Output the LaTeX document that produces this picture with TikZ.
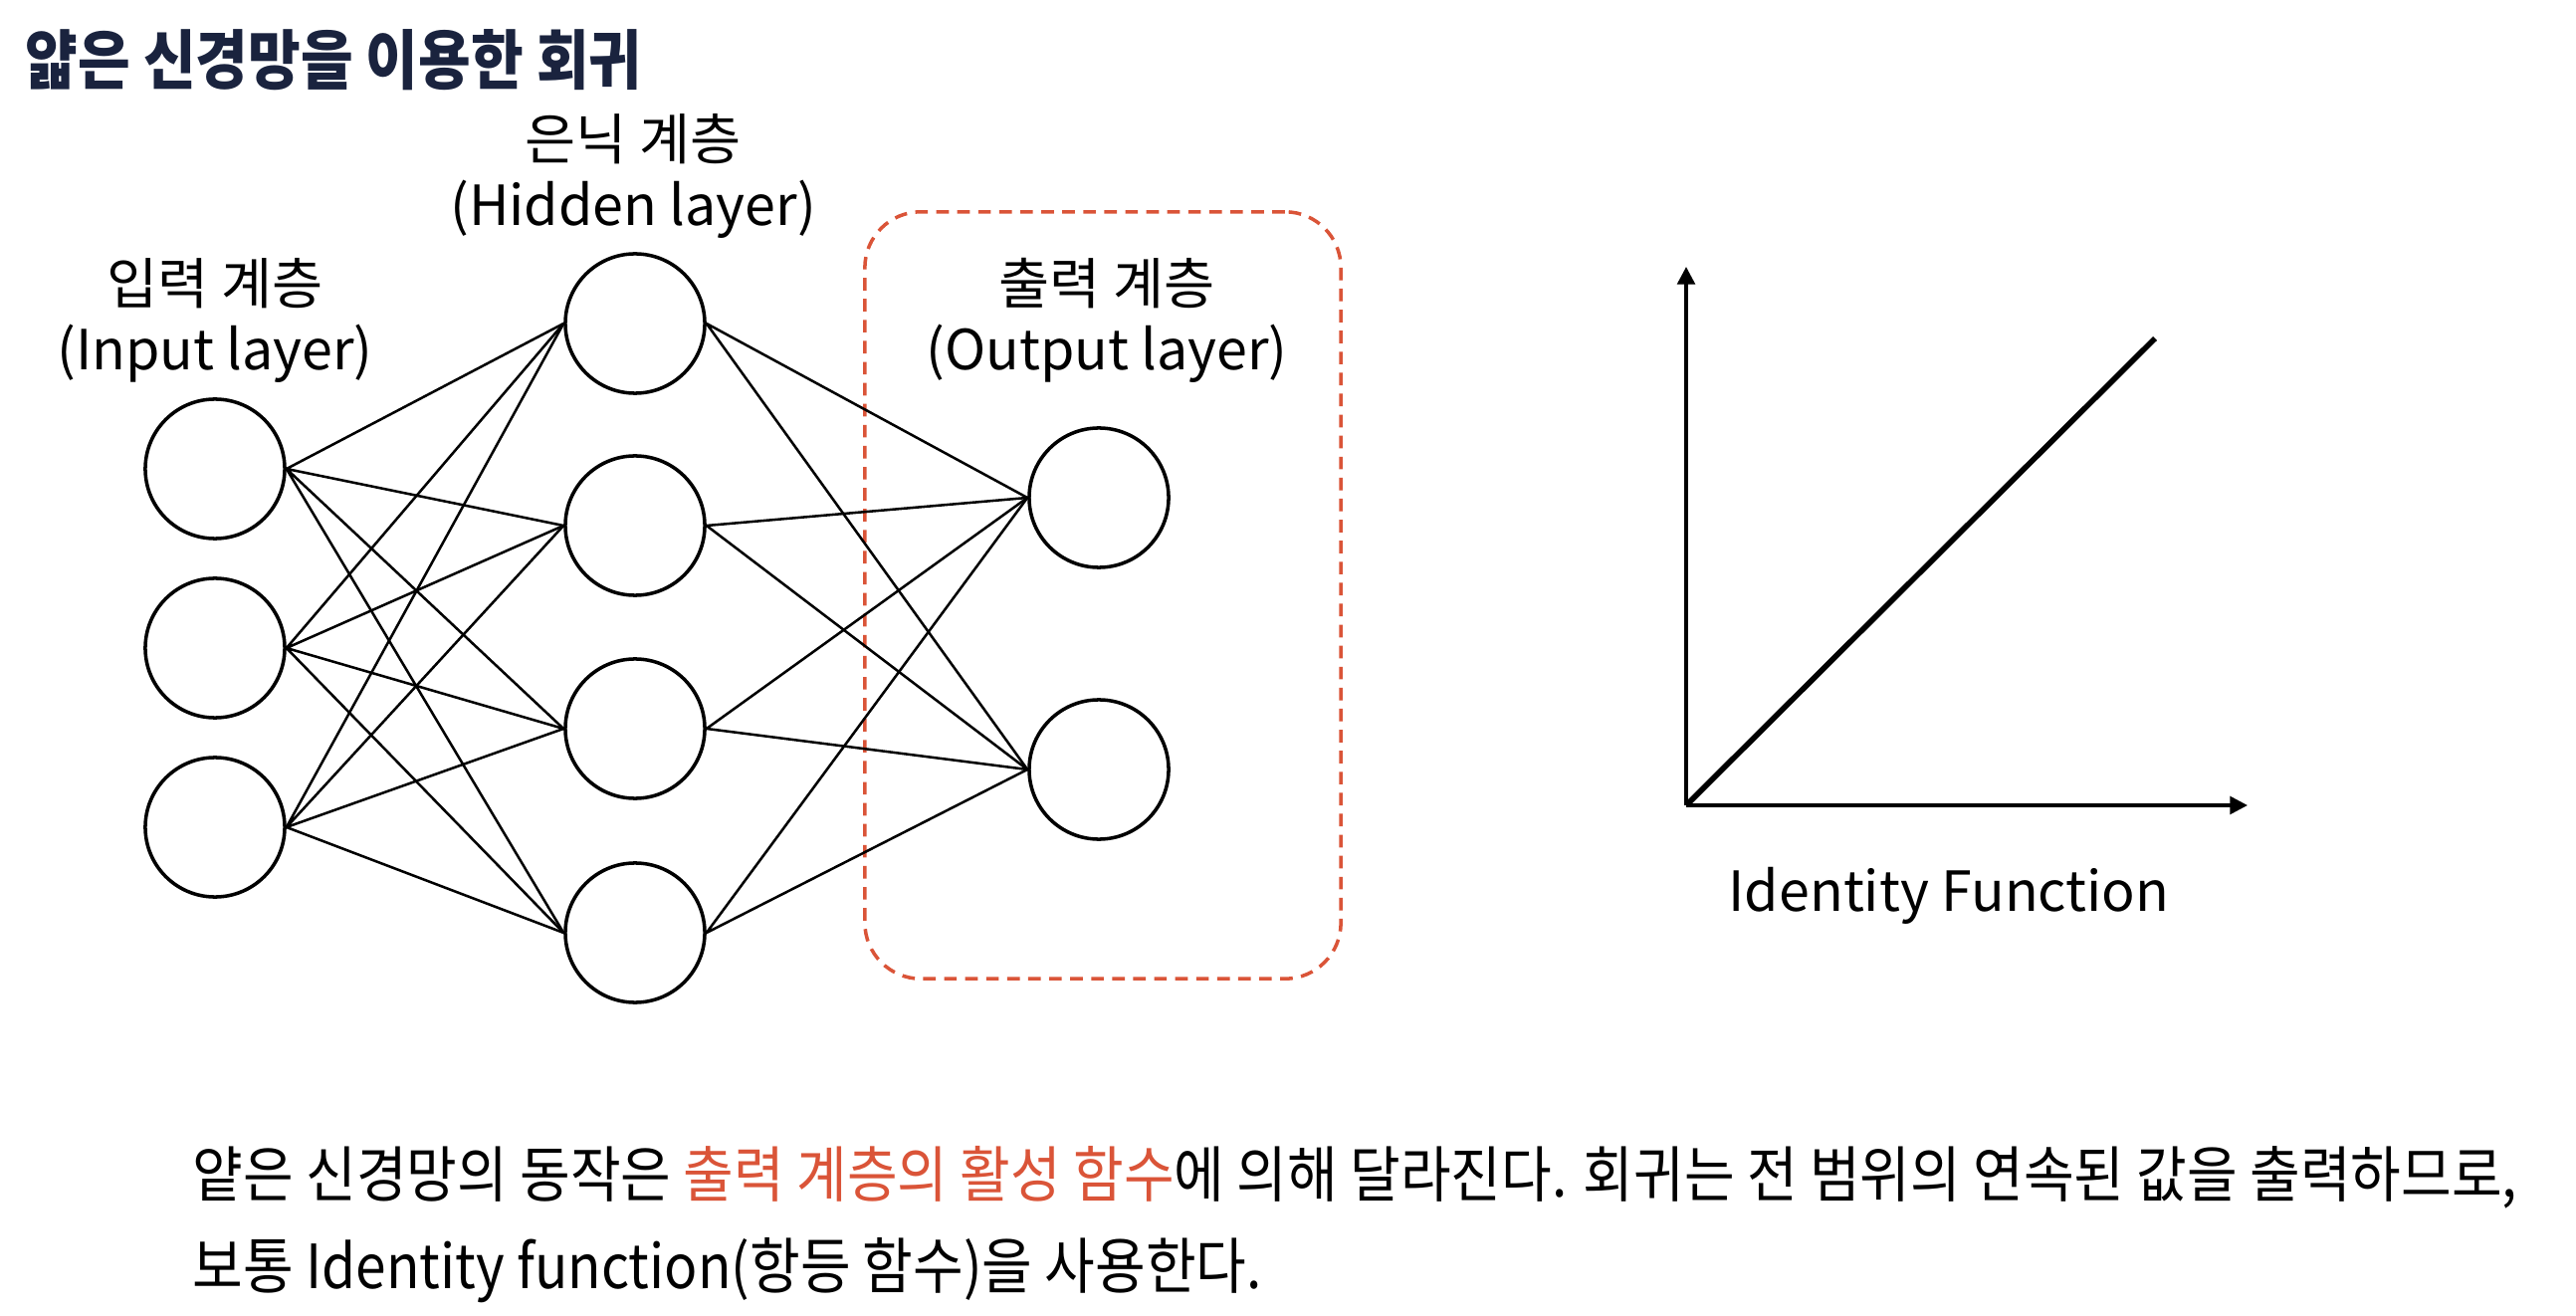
\documentclass[tikz,border=0pt]{standalone}
\usepackage{fontspec}
\setmainfont{Noto Sans CJK KR}
\newfontfamily\narrowkr{Noto Sans CJK KR}[FakeStretch=0.9]
\newfontfamily\titlekr{Noto Sans CJK KR}[FakeStretch=0.88]
\usepackage{xcolor}
\definecolor{titlenavy}{RGB}{26,35,62}
\definecolor{accentred}{RGB}{218,84,56}
\usepackage{tikz}
\usetikzlibrary{positioning,arrows.meta}

\begin{document}
\begin{tikzpicture}[x=0.01cm,y=-0.01cm,
  neuron/.style={circle,draw,line width=1pt,minimum size=1.4cm,inner sep=0pt},
  link/.style={line width=0.72pt},
  layerlabel/.style={align=center,font=\fontsize{15.8}{18.8}\selectfont},
  notetext/.style={anchor=west,inner sep=0pt,font=\narrowkr\fontsize{17.4}{20}\selectfont},
  axis/.style={line width=1pt,-{Triangle[length=5pt,width=5pt]}}]
  % lienzo 2588 x 1322 px, y hacia abajo
  \useasboundingbox (0,0) rectangle (2588,1322);
  % --- titulo ---
  \node[anchor=west,inner sep=0pt,text=titlenavy,font=\titlekr\fontsize{18.5}{20}\selectfont\bfseries] (title) at (25,60) {얇은 신경망을 이용한 회귀};
  % --- capa de salida (recuadro) ---
  \node[draw=accentred,dashed,line width=1pt,dash pattern=on 3.6pt off 2.4pt,rounded corners=16pt,
        minimum width=4.78cm,minimum height=7.7cm] (outbox) at (1108,598) {};
  % --- neuronas ---
  \node[neuron] (i1) at (216,471) {};
  \node[neuron] (i2) at (216,651) {};
  \node[neuron] (i3) at (216,831) {};
  \node[neuron] (h1) at (638,325) {};
  \node[neuron] (h2) at (638,528) {};
  \node[neuron] (h3) at (638,732) {};
  \node[neuron] (h4) at (638,937) {};
  \node[neuron] (o1) at (1104,500) {};
  \node[neuron] (o2) at (1104,773) {};
  % --- etiquetas de capa ---
  \node[layerlabel] (inlabel)  at (216,322)  {입력 계층\\(Input layer)};
  \node[layerlabel] (hidlabel) at (636,177)  {은닉 계층\\(Hidden layer)};
  \node[layerlabel] (outlabel) at (1112,322) {출력 계층\\(Output layer)};
  % --- conexiones entrada -> oculta ---
  \draw[link] (i1.east) -- (h1.west) (i1.east) -- (h2.west) (i1.east) -- (h3.west) (i1.east) -- (h4.west);
  \draw[link] (i2.east) -- (h1.west) (i2.east) -- (h2.west) (i2.east) -- (h3.west) (i2.east) -- (h4.west);
  \draw[link] (i3.east) -- (h1.west) (i3.east) -- (h2.west) (i3.east) -- (h3.west) (i3.east) -- (h4.west);
  % --- conexiones oculta -> salida ---
  \draw[link] (h1.east) -- (o1.west) (h1.east) -- (o2.west);
  \draw[link] (h2.east) -- (o1.west) (h2.east) -- (o2.west);
  \draw[link] (h3.east) -- (o1.west) (h3.east) -- (o2.west);
  \draw[link] (h4.east) -- (o1.west) (h4.east) -- (o2.west);
  % --- funcion identidad ---
  \coordinate (origin) at (1694,809);
  \coordinate (ytip) at (1694,268);
  \coordinate (xtip) at (2258,809);
  \coordinate (lineend) at (2165,340);
  \draw[axis] (origin) -- (ytip);
  \draw[axis] (origin) -- (xtip);
  \draw[line width=1.6pt] (origin) -- (lineend);
  \node[font=\fontsize{15.8}{18}\selectfont] (idlabel) at (1958,900) {Identity Function};
  % --- texto inferior ---
  \node[notetext] (note1) at (193,1183)
    {얕은 신경망의 동작은 \textcolor{accentred}{출력 계층의 활성 함수}에 의해 달라진다. 회귀는 전 범위의 연속된 값을 출력하므로,};
  \node[notetext] (note2) at (193,1276)
    {보통 Identity function(항등 함수)을 사용한다.};
\end{tikzpicture}
\end{document}
